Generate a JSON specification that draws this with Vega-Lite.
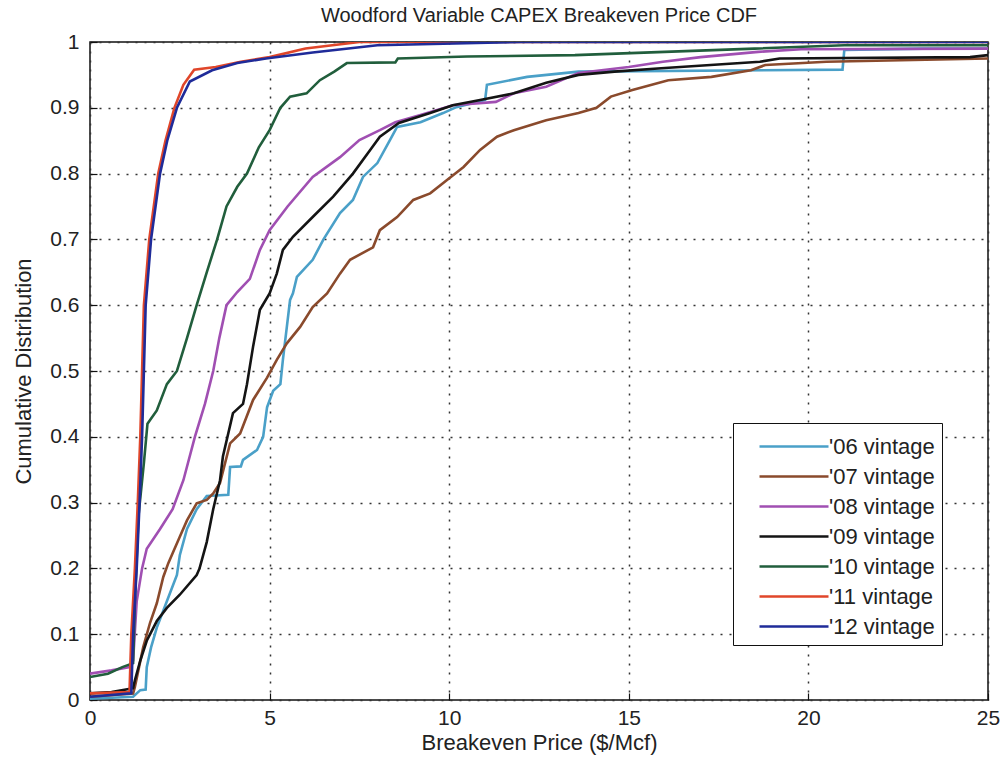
{
  "$schema": "https://vega.github.io/schema/vega-lite/v6.json",
  "width": 898,
  "height": 658,
  "autosize": {"type": "none"},
  "padding": {"left": 90, "top": 42, "right": 16, "bottom": 83},
  "background": "white",
  "title": {"text": "Woodford Variable CAPEX Breakeven Price CDF", "fontSize": 20, "fontWeight": "normal", "font": "Liberation Sans", "color": "#222", "offset": 5},
  "config": {
    "view": {"stroke": "#111", "strokeWidth": 1.5},
    "axis": {
      "labelFont": "Liberation Sans", "titleFont": "Liberation Sans",
      "labelFontSize": 21, "titleFontSize": 22, "titleFontWeight": "normal",
      "labelColor": "#222", "titleColor": "#222",
      "grid": true, "gridColor": "#333", "gridDash": [2, 7], "gridWidth": 1.5, "gridOpacity": 1,
      "domain": false, "ticks": true, "tickColor": "#111", "tickSize": -7, "tickWidth": 1.2
    }
  },
  "data": {"values": [
    {"v":"'06 vintage","x":0,"y":0.002},{"v":"'06 vintage","x":1.2,"y":0.005},{"v":"'06 vintage","x":1.4,"y":0.015},{"v":"'06 vintage","x":1.55,"y":0.016},{"v":"'06 vintage","x":1.58,"y":0.05},{"v":"'06 vintage","x":1.7,"y":0.08},{"v":"'06 vintage","x":1.86,"y":0.11},{"v":"'06 vintage","x":2.14,"y":0.15},{"v":"'06 vintage","x":2.42,"y":0.19},{"v":"'06 vintage","x":2.5,"y":0.22},{"v":"'06 vintage","x":2.7,"y":0.26},{"v":"'06 vintage","x":2.97,"y":0.29},{"v":"'06 vintage","x":3.25,"y":0.31},{"v":"'06 vintage","x":3.85,"y":0.312},{"v":"'06 vintage","x":3.9,"y":0.354},{"v":"'06 vintage","x":4.2,"y":0.355},{"v":"'06 vintage","x":4.26,"y":0.365},{"v":"'06 vintage","x":4.65,"y":0.38},{"v":"'06 vintage","x":4.82,"y":0.4},{"v":"'06 vintage","x":4.93,"y":0.445},{"v":"'06 vintage","x":5.1,"y":0.47},{"v":"'06 vintage","x":5.3,"y":0.48},{"v":"'06 vintage","x":5.37,"y":0.517},{"v":"'06 vintage","x":5.48,"y":0.567},{"v":"'06 vintage","x":5.57,"y":0.608},{"v":"'06 vintage","x":5.65,"y":0.618},{"v":"'06 vintage","x":5.76,"y":0.643},{"v":"'06 vintage","x":6.2,"y":0.669},{"v":"'06 vintage","x":6.5,"y":0.7},{"v":"'06 vintage","x":6.96,"y":0.74},{"v":"'06 vintage","x":7.32,"y":0.76},{"v":"'06 vintage","x":7.6,"y":0.795},{"v":"'06 vintage","x":8.0,"y":0.816},{"v":"'06 vintage","x":8.35,"y":0.851},{"v":"'06 vintage","x":8.55,"y":0.871},{"v":"'06 vintage","x":9.2,"y":0.878},{"v":"'06 vintage","x":9.83,"y":0.892},{"v":"'06 vintage","x":10.2,"y":0.901},{"v":"'06 vintage","x":11.0,"y":0.912},{"v":"'06 vintage","x":11.05,"y":0.935},{"v":"'06 vintage","x":12.17,"y":0.947},{"v":"'06 vintage","x":13.6,"y":0.955},{"v":"'06 vintage","x":20.95,"y":0.958},{"v":"'06 vintage","x":21.0,"y":0.988},{"v":"'06 vintage","x":23.2,"y":0.99},{"v":"'06 vintage","x":25,"y":0.99},

    {"v":"'07 vintage","x":0,"y":0.005},{"v":"'07 vintage","x":1.2,"y":0.01},{"v":"'07 vintage","x":1.25,"y":0.02},{"v":"'07 vintage","x":1.48,"y":0.08},{"v":"'07 vintage","x":1.67,"y":0.117},{"v":"'07 vintage","x":1.86,"y":0.147},{"v":"'07 vintage","x":2.04,"y":0.187},{"v":"'07 vintage","x":2.18,"y":0.208},{"v":"'07 vintage","x":2.3,"y":0.223},{"v":"'07 vintage","x":2.5,"y":0.248},{"v":"'07 vintage","x":2.7,"y":0.273},{"v":"'07 vintage","x":2.97,"y":0.299},{"v":"'07 vintage","x":3.25,"y":0.304},{"v":"'07 vintage","x":3.43,"y":0.314},{"v":"'07 vintage","x":3.62,"y":0.33},{"v":"'07 vintage","x":3.9,"y":0.39},{"v":"'07 vintage","x":4.18,"y":0.405},{"v":"'07 vintage","x":4.54,"y":0.456},{"v":"'07 vintage","x":4.93,"y":0.49},{"v":"'07 vintage","x":5.2,"y":0.517},{"v":"'07 vintage","x":5.48,"y":0.542},{"v":"'07 vintage","x":5.85,"y":0.567},{"v":"'07 vintage","x":6.2,"y":0.597},{"v":"'07 vintage","x":6.6,"y":0.618},{"v":"'07 vintage","x":6.96,"y":0.648},{"v":"'07 vintage","x":7.24,"y":0.669},{"v":"'07 vintage","x":7.88,"y":0.688},{"v":"'07 vintage","x":8.07,"y":0.714},{"v":"'07 vintage","x":8.55,"y":0.734},{"v":"'07 vintage","x":9.0,"y":0.76},{"v":"'07 vintage","x":9.47,"y":0.77},{"v":"'07 vintage","x":9.93,"y":0.79},{"v":"'07 vintage","x":10.4,"y":0.81},{"v":"'07 vintage","x":10.86,"y":0.836},{"v":"'07 vintage","x":11.33,"y":0.856},{"v":"'07 vintage","x":11.8,"y":0.866},{"v":"'07 vintage","x":12.7,"y":0.881},{"v":"'07 vintage","x":13.6,"y":0.892},{"v":"'07 vintage","x":14.1,"y":0.9},{"v":"'07 vintage","x":14.5,"y":0.917},{"v":"'07 vintage","x":15.1,"y":0.927},{"v":"'07 vintage","x":16.1,"y":0.942},{"v":"'07 vintage","x":17.3,"y":0.947},{"v":"'07 vintage","x":18.4,"y":0.957},{"v":"'07 vintage","x":18.8,"y":0.965},{"v":"'07 vintage","x":20.5,"y":0.97},{"v":"'07 vintage","x":25,"y":0.975},

    {"v":"'08 vintage","x":0,"y":0.04},{"v":"'08 vintage","x":0.6,"y":0.045},{"v":"'08 vintage","x":1.1,"y":0.05},{"v":"'08 vintage","x":1.2,"y":0.06},{"v":"'08 vintage","x":1.3,"y":0.15},{"v":"'08 vintage","x":1.45,"y":0.2},{"v":"'08 vintage","x":1.58,"y":0.23},{"v":"'08 vintage","x":1.95,"y":0.26},{"v":"'08 vintage","x":2.3,"y":0.29},{"v":"'08 vintage","x":2.6,"y":0.334},{"v":"'08 vintage","x":2.92,"y":0.4},{"v":"'08 vintage","x":3.2,"y":0.45},{"v":"'08 vintage","x":3.43,"y":0.5},{"v":"'08 vintage","x":3.6,"y":0.55},{"v":"'08 vintage","x":3.8,"y":0.6},{"v":"'08 vintage","x":4.1,"y":0.62},{"v":"'08 vintage","x":4.45,"y":0.64},{"v":"'08 vintage","x":4.73,"y":0.684},{"v":"'08 vintage","x":5.0,"y":0.714},{"v":"'08 vintage","x":5.5,"y":0.75},{"v":"'08 vintage","x":6.2,"y":0.795},{"v":"'08 vintage","x":6.96,"y":0.825},{"v":"'08 vintage","x":7.5,"y":0.851},{"v":"'08 vintage","x":8.07,"y":0.866},{"v":"'08 vintage","x":8.5,"y":0.878},{"v":"'08 vintage","x":9.2,"y":0.889},{"v":"'08 vintage","x":10.1,"y":0.904},{"v":"'08 vintage","x":11.3,"y":0.909},{"v":"'08 vintage","x":11.8,"y":0.922},{"v":"'08 vintage","x":12.7,"y":0.932},{"v":"'08 vintage","x":13.6,"y":0.953},{"v":"'08 vintage","x":15.0,"y":0.962},{"v":"'08 vintage","x":15.95,"y":0.97},{"v":"'08 vintage","x":17,"y":0.977},{"v":"'08 vintage","x":18.6,"y":0.985},{"v":"'08 vintage","x":19.8,"y":0.989},{"v":"'08 vintage","x":25,"y":0.99},

    {"v":"'09 vintage","x":0,"y":0.01},{"v":"'09 vintage","x":0.6,"y":0.012},{"v":"'09 vintage","x":1.2,"y":0.018},{"v":"'09 vintage","x":1.25,"y":0.03},{"v":"'09 vintage","x":1.4,"y":0.06},{"v":"'09 vintage","x":1.58,"y":0.09},{"v":"'09 vintage","x":1.86,"y":0.12},{"v":"'09 vintage","x":2.14,"y":0.14},{"v":"'09 vintage","x":2.5,"y":0.16},{"v":"'09 vintage","x":2.97,"y":0.19},{"v":"'09 vintage","x":3.05,"y":0.2},{"v":"'09 vintage","x":3.25,"y":0.24},{"v":"'09 vintage","x":3.43,"y":0.29},{"v":"'09 vintage","x":3.62,"y":0.334},{"v":"'09 vintage","x":3.7,"y":0.37},{"v":"'09 vintage","x":3.98,"y":0.436},{"v":"'09 vintage","x":4.26,"y":0.45},{"v":"'09 vintage","x":4.37,"y":0.48},{"v":"'09 vintage","x":4.54,"y":0.537},{"v":"'09 vintage","x":4.73,"y":0.593},{"v":"'09 vintage","x":5.0,"y":0.618},{"v":"'09 vintage","x":5.2,"y":0.648},{"v":"'09 vintage","x":5.37,"y":0.684},{"v":"'09 vintage","x":5.65,"y":0.704},{"v":"'09 vintage","x":6.2,"y":0.734},{"v":"'09 vintage","x":6.77,"y":0.765},{"v":"'09 vintage","x":7.32,"y":0.8},{"v":"'09 vintage","x":7.8,"y":0.836},{"v":"'09 vintage","x":8.07,"y":0.856},{"v":"'09 vintage","x":8.6,"y":0.877},{"v":"'09 vintage","x":9.47,"y":0.892},{"v":"'09 vintage","x":10.1,"y":0.904},{"v":"'09 vintage","x":10.86,"y":0.912},{"v":"'09 vintage","x":11.8,"y":0.922},{"v":"'09 vintage","x":12.7,"y":0.938},{"v":"'09 vintage","x":13.6,"y":0.95},{"v":"'09 vintage","x":14.6,"y":0.955},{"v":"'09 vintage","x":15.9,"y":0.96},{"v":"'09 vintage","x":18.65,"y":0.97},{"v":"'09 vintage","x":19.2,"y":0.975},{"v":"'09 vintage","x":24.5,"y":0.977},{"v":"'09 vintage","x":25,"y":0.98},

    {"v":"'10 vintage","x":0,"y":0.035},{"v":"'10 vintage","x":0.5,"y":0.04},{"v":"'10 vintage","x":0.9,"y":0.05},{"v":"'10 vintage","x":1.2,"y":0.056},{"v":"'10 vintage","x":1.25,"y":0.15},{"v":"'10 vintage","x":1.35,"y":0.28},{"v":"'10 vintage","x":1.5,"y":0.36},{"v":"'10 vintage","x":1.6,"y":0.42},{"v":"'10 vintage","x":1.86,"y":0.44},{"v":"'10 vintage","x":2.14,"y":0.48},{"v":"'10 vintage","x":2.42,"y":0.5},{"v":"'10 vintage","x":2.7,"y":0.55},{"v":"'10 vintage","x":2.97,"y":0.6},{"v":"'10 vintage","x":3.25,"y":0.65},{"v":"'10 vintage","x":3.54,"y":0.7},{"v":"'10 vintage","x":3.8,"y":0.75},{"v":"'10 vintage","x":4.1,"y":0.78},{"v":"'10 vintage","x":4.37,"y":0.8},{"v":"'10 vintage","x":4.7,"y":0.84},{"v":"'10 vintage","x":5.0,"y":0.866},{"v":"'10 vintage","x":5.3,"y":0.9},{"v":"'10 vintage","x":5.57,"y":0.917},{"v":"'10 vintage","x":6.03,"y":0.922},{"v":"'10 vintage","x":6.4,"y":0.942},{"v":"'10 vintage","x":6.8,"y":0.955},{"v":"'10 vintage","x":7.15,"y":0.968},{"v":"'10 vintage","x":8.5,"y":0.969},{"v":"'10 vintage","x":8.57,"y":0.975},{"v":"'10 vintage","x":10.5,"y":0.978},{"v":"'10 vintage","x":13.5,"y":0.98},{"v":"'10 vintage","x":16,"y":0.985},{"v":"'10 vintage","x":18.5,"y":0.99},{"v":"'10 vintage","x":21,"y":0.995},{"v":"'10 vintage","x":25,"y":0.995},

    {"v":"'11 vintage","x":0,"y":0.01},{"v":"'11 vintage","x":1.1,"y":0.012},{"v":"'11 vintage","x":1.15,"y":0.1},{"v":"'11 vintage","x":1.25,"y":0.2},{"v":"'11 vintage","x":1.33,"y":0.3},{"v":"'11 vintage","x":1.4,"y":0.4},{"v":"'11 vintage","x":1.45,"y":0.5},{"v":"'11 vintage","x":1.5,"y":0.6},{"v":"'11 vintage","x":1.65,"y":0.7},{"v":"'11 vintage","x":1.9,"y":0.8},{"v":"'11 vintage","x":2.1,"y":0.85},{"v":"'11 vintage","x":2.35,"y":0.9},{"v":"'11 vintage","x":2.6,"y":0.935},{"v":"'11 vintage","x":2.9,"y":0.958},{"v":"'11 vintage","x":3.5,"y":0.962},{"v":"'11 vintage","x":4.2,"y":0.97},{"v":"'11 vintage","x":5.0,"y":0.977},{"v":"'11 vintage","x":6.0,"y":0.99},{"v":"'11 vintage","x":7.5,"y":1.0},{"v":"'11 vintage","x":25,"y":1.0},

    {"v":"'12 vintage","x":0,"y":0.005},{"v":"'12 vintage","x":1.15,"y":0.01},{"v":"'12 vintage","x":1.2,"y":0.1},{"v":"'12 vintage","x":1.3,"y":0.2},{"v":"'12 vintage","x":1.38,"y":0.3},{"v":"'12 vintage","x":1.45,"y":0.4},{"v":"'12 vintage","x":1.5,"y":0.5},{"v":"'12 vintage","x":1.55,"y":0.6},{"v":"'12 vintage","x":1.7,"y":0.7},{"v":"'12 vintage","x":1.95,"y":0.8},{"v":"'12 vintage","x":2.15,"y":0.85},{"v":"'12 vintage","x":2.42,"y":0.9},{"v":"'12 vintage","x":2.78,"y":0.94},{"v":"'12 vintage","x":3.4,"y":0.957},{"v":"'12 vintage","x":4.1,"y":0.968},{"v":"'12 vintage","x":4.9,"y":0.975},{"v":"'12 vintage","x":6.2,"y":0.984},{"v":"'12 vintage","x":8,"y":0.995},{"v":"'12 vintage","x":12,"y":1.0},{"v":"'12 vintage","x":25,"y":1.0}
  ]},
  "mark": {"type": "line", "interpolate": "linear", "clip": true},
  "encoding": {
    "x": {"field": "x", "type": "quantitative", "title": "Breakeven Price ($/Mcf)",
      "scale": {"domain": [0, 25], "nice": false, "zero": false},
      "axis": {"values": [0, 5, 10, 15, 20, 25], "labelPadding": 14, "titlePadding": 4, "labelFlush": false}},
    "y": {"field": "y", "type": "quantitative", "title": "Cumulative Distribution",
      "scale": {"domain": [0, 1], "nice": false},
      "axis": {"values": [0, 0.1, 0.2, 0.3, 0.4, 0.5, 0.6, 0.7, 0.8, 0.9, 1], "format": "~g", "labelPadding": 18, "titlePadding": 14, "labelFlush": false}},
    "strokeWidth": {"field": "v", "type": "nominal",
      "scale": {"domain": ["'06 vintage", "'07 vintage", "'08 vintage", "'09 vintage", "'10 vintage", "'11 vintage", "'12 vintage"],
        "range": [2.6, 2.6, 2.6, 3.3, 2.8, 2.6, 2.8]}, "legend": null},
    "color": {"field": "v", "type": "nominal",
      "scale": {"domain": ["'06 vintage", "'07 vintage", "'08 vintage", "'09 vintage", "'10 vintage", "'11 vintage", "'12 vintage"],
        "range": ["#4aa0c8", "#8a4a2c", "#a04fb2", "#141414", "#215e3c", "#e0462a", "#1f2b99"]},
      "legend": {"title": null, "orient": "none", "legendX": 643, "legendY": 381,
        "padding": 7, "strokeColor": "#111", "fillColor": "white",
        "symbolType": "M-1,0H3.6", "symbolSize": 900, "symbolStrokeWidth": 3, "symbolOffset": 18,
        "labelOffset": 38, "labelFontSize": 22, "labelFont": "Liberation Sans", "labelColor": "#222",
        "rowPadding": 2, "labelLimit": 200}}
  }
}
